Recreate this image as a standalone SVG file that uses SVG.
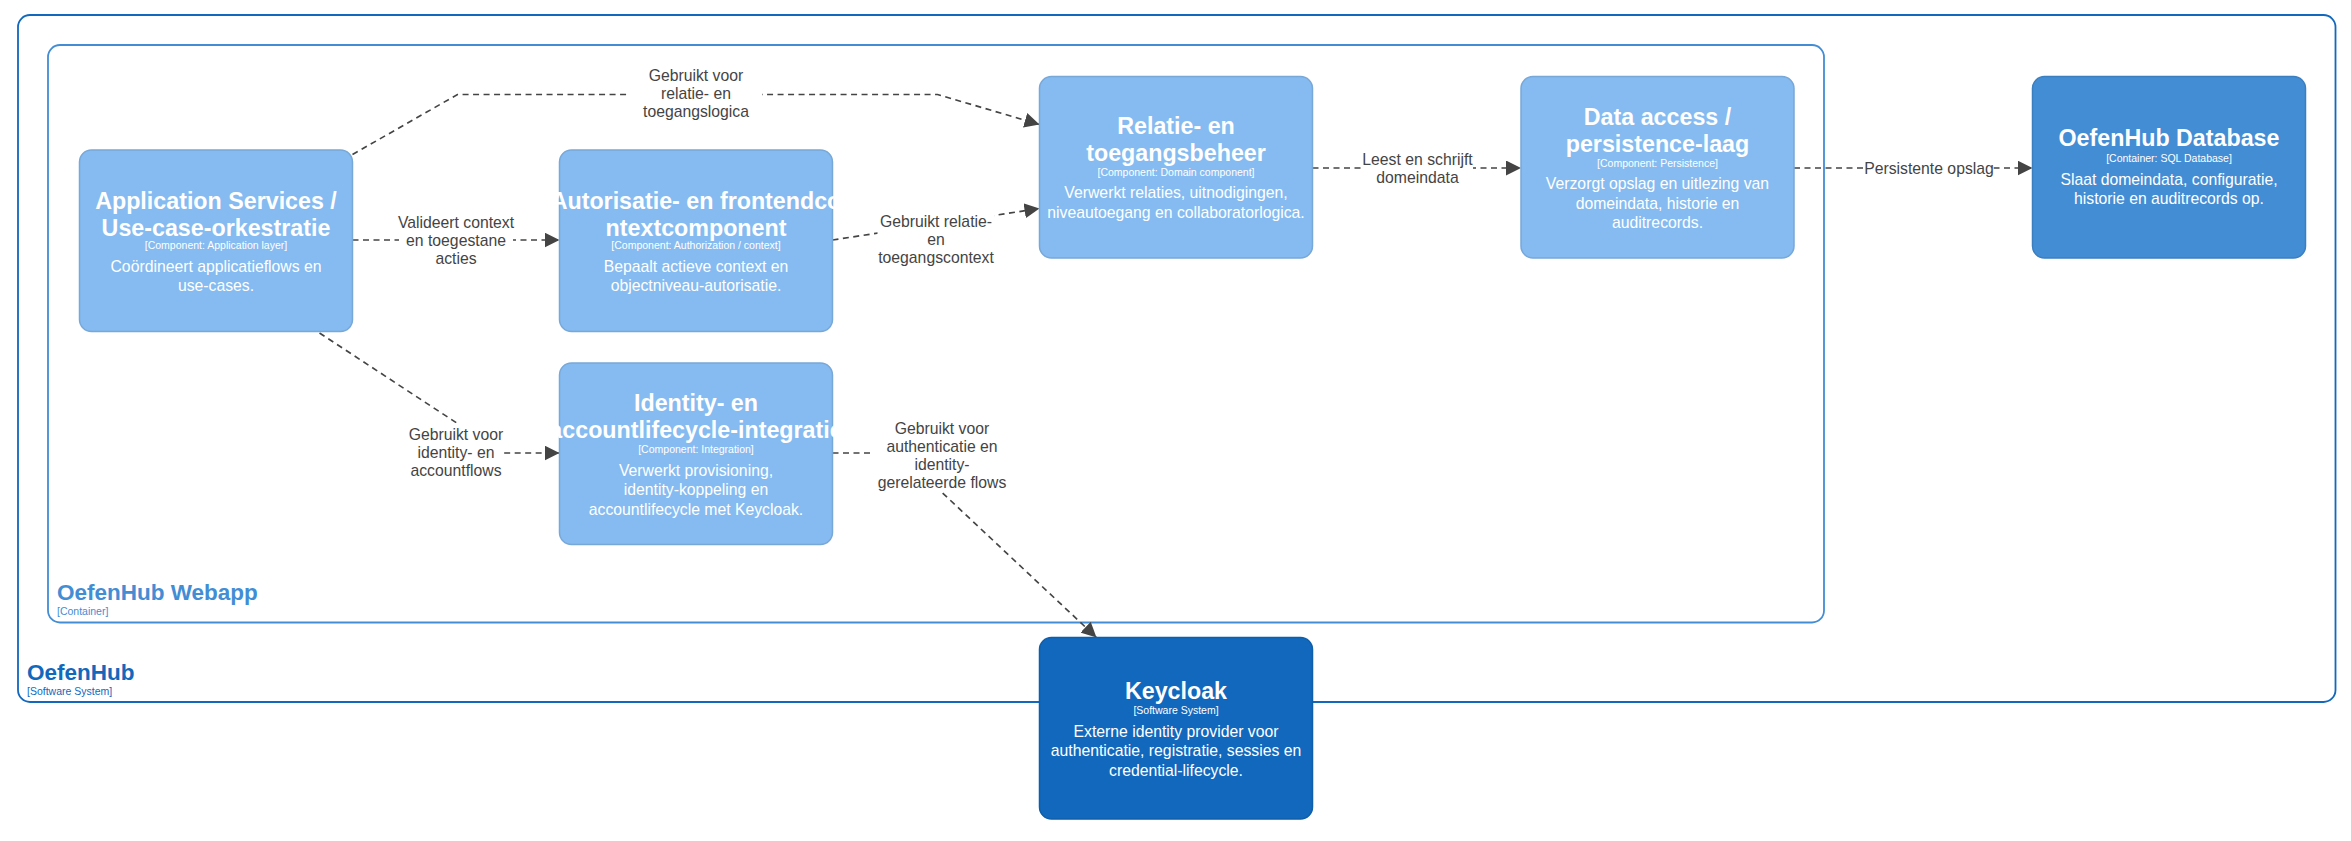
<svg xmlns="http://www.w3.org/2000/svg" width="2351" height="841" viewBox="0 0 2351 841">
<defs>
<marker id="ah" viewBox="0 0 10 10" refX="10" refY="5" markerWidth="10" markerHeight="10" markerUnits="userSpaceOnUse" orient="auto"><path d="M0,0 L10,5 L0,10 z" fill="#444"/></marker>
<style>
text{font-family:"Liberation Sans",Arial,sans-serif;text-anchor:middle}
.comp{fill:#85bbf0;stroke:#78a8d8;stroke-width:1}
.title{font-size:15.5px;font-weight:bold;fill:#fff}
.tech{font-size:7px;fill:#fff}
.desc{font-size:10.5px;fill:#fff}
.edge{fill:none;stroke:#444;stroke-width:1.1;stroke-dasharray:4,3;marker-end:url(#ah)}
.lbl{font-size:10.5px;fill:#444}
.bg{fill:#fff}
.bnd{fill:none;stroke-width:1.2}
</style>
</defs>
<rect width="2351" height="841" fill="#fff"/>
<g transform="scale(1.5)">
<g id="oefenhub-boundary">
<rect class="bnd" x="12" y="10" width="1545" height="458" rx="8" stroke="#1168bd"/>
<text x="18" y="453" style="text-anchor:start;font-size:15px;font-weight:bold;fill:#1168bd">OefenHub</text>
<text x="18" y="463" style="text-anchor:start;font-size:7px;fill:#1168bd">[Software System]</text>
</g>
<g id="webapp-boundary">
<rect class="bnd" x="32" y="30" width="1184" height="385" rx="8" stroke="#438dd5"/>
<text x="38" y="400" style="text-anchor:start;font-size:15px;font-weight:bold;fill:#438dd5">OefenHub Webapp</text>
<text x="38" y="410" style="text-anchor:start;font-size:7px;fill:#438dd5">[Container]</text>
</g>
<g id="connectors">
<path class="edge" d="M235,103 L305,63 L625,63 L693,83"/>
<rect class="bg" x="420" y="42" width="88" height="38"/>
<text class="lbl" x="464" y="54">Gebruikt voor</text>
<text class="lbl" x="464" y="66">relatie- en</text>
<text class="lbl" x="464" y="78">toegangslogica</text>
<path class="edge" d="M235,160 L373,160"/>
<rect class="bg" x="266" y="141" width="76" height="38"/>
<text class="lbl" x="304" y="152">Valideert context</text>
<text class="lbl" x="304" y="164">en toegestane</text>
<text class="lbl" x="304" y="176">acties</text>
<path class="edge" d="M555,160 L693,139"/>
<rect class="bg" x="585" y="140" width="78" height="38"/>
<text class="lbl" x="624" y="151">Gebruikt relatie-</text>
<text class="lbl" x="624" y="163">en</text>
<text class="lbl" x="624" y="175">toegangscontext</text>
<path class="edge" d="M213,222 L335,302 L373,302"/>
<rect class="bg" x="272" y="282" width="64" height="38"/>
<text class="lbl" x="304" y="293">Gebruikt voor</text>
<text class="lbl" x="304" y="305">identity- en</text>
<text class="lbl" x="304" y="317">accountflows</text>
<path class="edge" d="M555,302 L600,302 L731,425"/>
<rect class="bg" x="582" y="278" width="92" height="50"/>
<text class="lbl" x="628" y="289">Gebruikt voor</text>
<text class="lbl" x="628" y="301">authenticatie en</text>
<text class="lbl" x="628" y="313">identity-</text>
<text class="lbl" x="628" y="325">gerelateerde flows</text>
<path class="edge" d="M875,112 L1014,112"/>
<rect class="bg" x="908" y="99" width="74" height="26"/>
<text class="lbl" x="945" y="110">Leest en schrijft</text>
<text class="lbl" x="945" y="122">domeindata</text>
<path class="edge" d="M1196,112 L1355,112"/>
<rect class="bg" x="1243" y="105" width="86" height="14"/>
<text class="lbl" x="1286" y="116">Persistente opslag</text>
</g>
<g id="app-services">
<rect class="comp" x="53" y="100" width="182" height="121" rx="8"/>
<text class="title" x="144" y="139">Application Services /</text>
<text class="title" x="144" y="157">Use-case-orkestratie</text>
<text class="tech" x="144" y="166">[Component: Application layer]</text>
<text class="desc" x="144" y="181">Coördineert applicatieflows en</text>
<text class="desc" x="144" y="194">use-cases.</text>
</g>
<g id="autorisatie">
<rect class="comp" x="373" y="100" width="182" height="121" rx="8"/>
<text class="title" x="464" y="139">Autorisatie- en frontendco</text>
<text class="title" x="464" y="157">ntextcomponent</text>
<text class="tech" x="464" y="166">[Component: Authorization / context]</text>
<text class="desc" x="464" y="181">Bepaalt actieve context en</text>
<text class="desc" x="464" y="194">objectniveau-autorisatie.</text>
</g>
<g id="identity">
<rect class="comp" x="373" y="242" width="182" height="121" rx="8"/>
<text class="title" x="464" y="274">Identity- en</text>
<text class="title" x="464" y="292">accountlifecycle-integratie</text>
<text class="tech" x="464" y="302">[Component: Integration]</text>
<text class="desc" x="464" y="317">Verwerkt provisioning,</text>
<text class="desc" x="464" y="330">identity-koppeling en</text>
<text class="desc" x="464" y="343">accountlifecycle met Keycloak.</text>
</g>
<g id="relatie">
<rect class="comp" x="693" y="51" width="182" height="121" rx="8"/>
<text class="title" x="784" y="89">Relatie- en</text>
<text class="title" x="784" y="107">toegangsbeheer</text>
<text class="tech" x="784" y="117">[Component: Domain component]</text>
<text class="desc" x="784" y="132">Verwerkt relaties, uitnodigingen,</text>
<text class="desc" x="784" y="145">niveautoegang en collaboratorlogica.</text>
</g>
<g id="data-access">
<rect class="comp" x="1014" y="51" width="182" height="121" rx="8"/>
<text class="title" x="1105" y="83">Data access /</text>
<text class="title" x="1105" y="101">persistence-laag</text>
<text class="tech" x="1105" y="111">[Component: Persistence]</text>
<text class="desc" x="1105" y="126">Verzorgt opslag en uitlezing van</text>
<text class="desc" x="1105" y="139">domeindata, historie en</text>
<text class="desc" x="1105" y="152">auditrecords.</text>
</g>
<g id="database">
<rect x="1355" y="51" width="182" height="121" rx="8" fill="#438dd5" stroke="#3c7fc0"/>
<text class="title" x="1446" y="97">OefenHub Database</text>
<text class="tech" x="1446" y="108">[Container: SQL Database]</text>
<text class="desc" x="1446" y="123">Slaat domeindata, configuratie,</text>
<text class="desc" x="1446" y="136">historie en auditrecords op.</text>
</g>
<g id="keycloak">
<rect x="693" y="425" width="182" height="121" rx="8" fill="#1168bd" stroke="#0f5eaa"/>
<text class="title" x="784" y="466">Keycloak</text>
<text class="tech" x="784" y="476">[Software System]</text>
<text class="desc" x="784" y="491">Externe identity provider voor</text>
<text class="desc" x="784" y="504">authenticatie, registratie, sessies en</text>
<text class="desc" x="784" y="517">credential-lifecycle.</text>
</g>
</g>
</svg>
